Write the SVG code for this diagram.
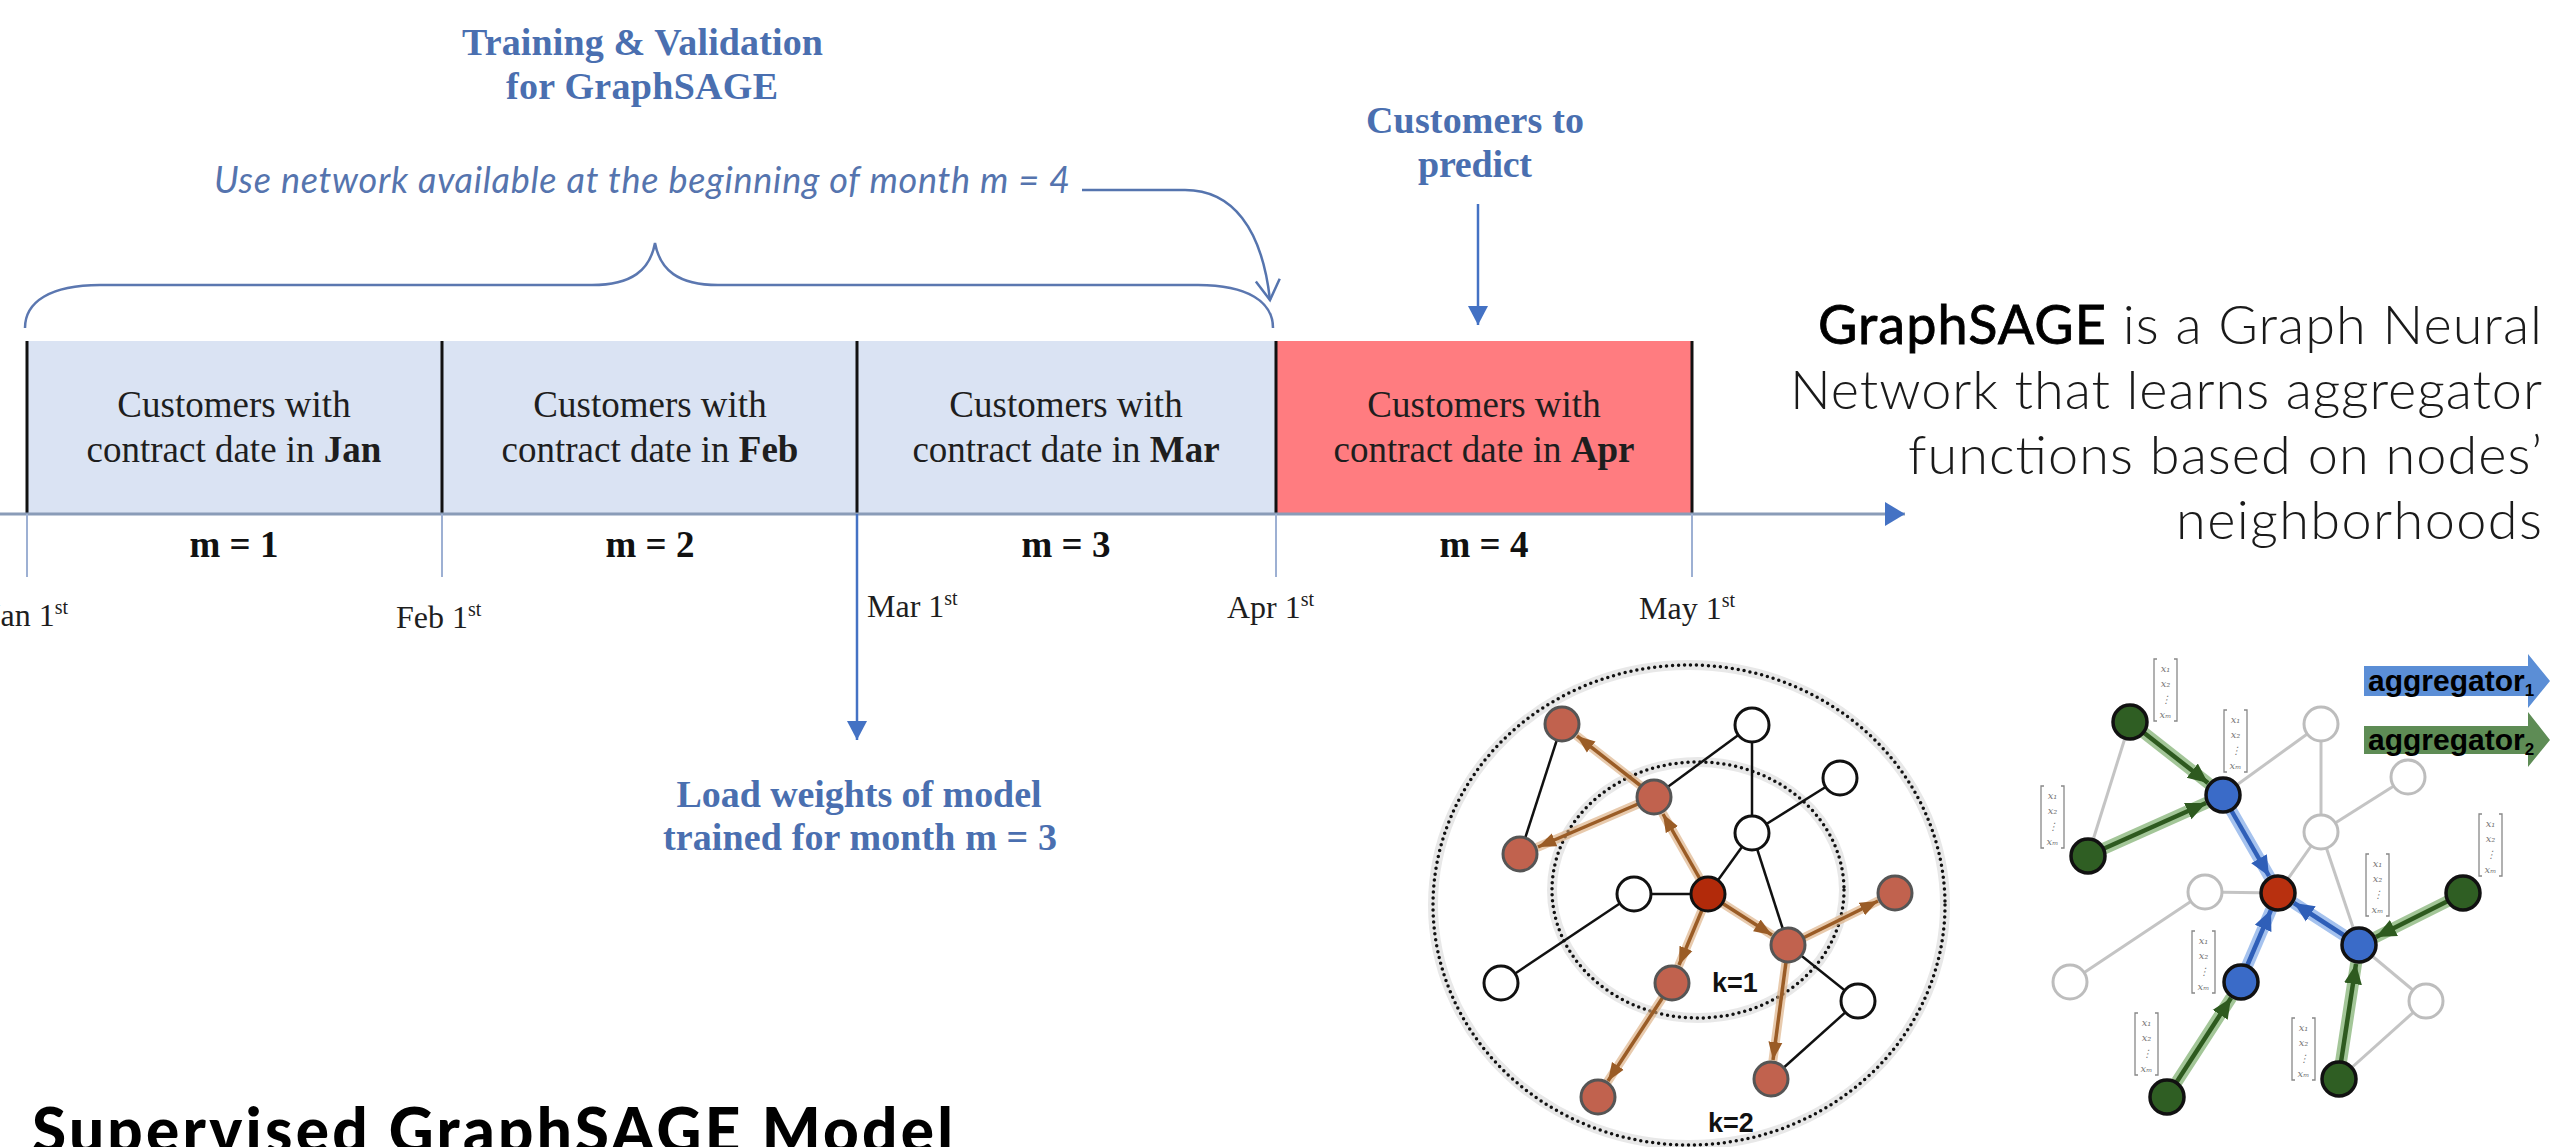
<svg xmlns="http://www.w3.org/2000/svg" width="2569" height="1147" viewBox="0 0 2569 1147">
<defs>
<style>
.bt{font-family:"Liberation Serif","Times New Roman",serif;font-weight:bold;font-size:38px;fill:#4A6FB0}
.it{font-family:Lato,"Open Sans",sans-serif;font-style:italic;font-size:36px;fill:#5574AE}
.bx{font-family:"Liberation Serif","Times New Roman",serif;font-size:37px;fill:#1e1e1e;text-anchor:middle}
.ml{font-family:"Liberation Serif","Times New Roman",serif;font-weight:bold;font-size:37px;fill:#111;text-anchor:middle}
.dt{font-family:"Liberation Serif","Times New Roman",serif;font-size:32px;fill:#1e1e1e}
.sup{font-size:20px}
.desc{font-family:Lato,"Open Sans",sans-serif;font-size:54px;fill:#1a1a1a;text-anchor:end;font-weight:300}
.gs{fill:#000;font-weight:400;stroke:#000;stroke-width:0.8}
.ttl{font-family:Lato,"Open Sans",sans-serif;font-weight:900;font-size:62px;fill:#000}
.kl{font-family:"Liberation Sans",Arial,sans-serif;font-weight:bold;font-size:27px;fill:#111}
.ag{font-family:"Liberation Sans",Arial,sans-serif;font-weight:bold;font-size:30px;fill:#000}
.vt{font-family:"DejaVu Serif",serif;font-style:italic;font-size:10px;fill:#777;text-anchor:middle}
.dot{fill:none;stroke:#111;stroke-width:3.5;stroke-dasharray:0 6;stroke-linecap:round}
.glow{fill:none;stroke:#d8d8d8;stroke-width:10;opacity:.6}
.wn{fill:#fff;stroke:#111;stroke-width:3}
.rn{fill:#C1624E;stroke:#555;stroke-width:3}
.wn2{fill:#fff;stroke:#BDBDBD;stroke-width:3}
.gn{fill:#2F5E23;stroke:#111;stroke-width:3.5}
.bn{fill:#3A6BC8;stroke:#111;stroke-width:3.5}
.edge{stroke:#111;stroke-width:2.5}
.edge2{stroke:#C4C4C4;stroke-width:3}
.brh{stroke:#D9A877;stroke-width:9;opacity:.6;stroke-linecap:round}
.brc{stroke:#9A5C26;stroke-width:3.5}
.grh{stroke:#8DB87F;stroke-width:12;opacity:.8;stroke-linecap:round}
.grc{stroke:#2E5A1F;stroke-width:4.5}
.blh{stroke:#8FB3EA;stroke-width:12;opacity:.8;stroke-linecap:round}
.blc{stroke:#2F5FB8;stroke-width:4.5}
.conn{fill:none;stroke:#4472C4;stroke-width:2.5}
</style>
<marker id="ah-brown" markerUnits="userSpaceOnUse" markerWidth="20" markerHeight="16" refX="18" refY="8" orient="auto"><path d="M0,1 L18,8 L0,15 z" fill="#9A5C26"/></marker>
<marker id="ah-green" markerUnits="userSpaceOnUse" markerWidth="22" markerHeight="20" refX="20" refY="10" orient="auto"><path d="M0,1 L20,10 L0,19 z" fill="#2E5A1F"/></marker>
<marker id="ah-blue" markerUnits="userSpaceOnUse" markerWidth="22" markerHeight="20" refX="20" refY="10" orient="auto"><path d="M0,1 L20,10 L0,19 z" fill="#2F5FB8"/></marker>
<marker id="ah-tl" markerUnits="userSpaceOnUse" markerWidth="22" markerHeight="22" refX="19" refY="10" orient="auto"><path d="M0,0 L19,10 L0,20 z" fill="#4472C4"/></marker>
<marker id="ah-axis" markerUnits="userSpaceOnUse" markerWidth="22" markerHeight="26" refX="20" refY="12" orient="auto"><path d="M0,0 L20,12 L0,24 z" fill="#4472C4"/></marker>
<marker id="ah-open" markerUnits="userSpaceOnUse" markerWidth="26" markerHeight="30" refX="22" refY="14" orient="auto"><path d="M2,2 L22,14 L2,26" fill="none" stroke="#5574AE" stroke-width="2.5"/></marker>
<symbol id="vec" overflow="visible">
<path d="M4,1 H1 V63 H4 M21,1 H24 V63 H21" fill="none" stroke="#888" stroke-width="1.3"/>
<text class="vt" x="12.5" y="14">x₁</text>
<text class="vt" x="12.5" y="29">x₂</text>
<text class="vt" x="12.5" y="45">⋮</text>
<text class="vt" x="12.5" y="60">xₘ</text>
</symbol>
</defs>
<rect width="2569" height="1147" fill="#fff"/>

<!-- Titles -->
<g id="title-training">
<text class="bt" x="462" y="55" textLength="361">Training &amp; Validation</text>
<text class="bt" x="506" y="99" textLength="272">for GraphSAGE</text>
</g>
<g id="label-network">
<text class="it" x="214" y="193" textLength="856">Use network available at the beginning of month  m = 4</text>
</g>
<g id="title-predict">
<text class="bt" x="1366" y="133" textLength="218">Customers to</text>
<text class="bt" x="1418" y="177" textLength="114">predict</text>
</g>

<!-- Month boxes -->
<g id="box-jan">
<rect x="27" y="341" width="415" height="173" fill="#DAE3F3"/>
<text class="bx" x="234" y="417">Customers with</text>
<text class="bx" x="234" y="462">contract  date in <tspan font-weight="bold">Jan</tspan></text>
<text class="ml" x="234" y="557">m = 1</text>
</g>
<g id="box-feb">
<rect x="442" y="341" width="415" height="173" fill="#DAE3F3"/>
<text class="bx" x="650" y="417">Customers with</text>
<text class="bx" x="650" y="462">contract  date in <tspan font-weight="bold">Feb</tspan></text>
<text class="ml" x="650" y="557">m = 2</text>
</g>
<g id="box-mar">
<rect x="857" y="341" width="419" height="173" fill="#DAE3F3"/>
<text class="bx" x="1066" y="417">Customers with</text>
<text class="bx" x="1066" y="462">contract  date in <tspan font-weight="bold">Mar</tspan></text>
<text class="ml" x="1066" y="557">m = 3</text>
</g>
<g id="box-apr">
<rect x="1276" y="341" width="416" height="173" fill="#FF7C80"/>
<text class="bx" x="1484" y="417" fill="#2a0a0a">Customers with</text>
<text class="bx" x="1484" y="462">contract  date in <tspan font-weight="bold">Apr</tspan></text>
<text class="ml" x="1484" y="557">m = 4</text>
</g>
<g id="dividers" stroke="#111" stroke-width="3">
<line x1="27" y1="341" x2="27" y2="514"/>
<line x1="442" y1="341" x2="442" y2="514"/>
<line x1="857" y1="341" x2="857" y2="514"/>
<line x1="1276" y1="341" x2="1276" y2="514"/>
<line x1="1692" y1="341" x2="1692" y2="514"/>
</g>

<!-- Dates -->
<g id="dates">
<text class="dt" x="-12" y="626">Jan 1<tspan class="sup" dy="-12">st</tspan></text>
<text class="dt" x="396" y="628">Feb 1<tspan class="sup" dy="-12">st</tspan></text>
<text class="dt" x="867" y="617">Mar 1<tspan class="sup" dy="-12">st</tspan></text>
<text class="dt" x="1227" y="618">Apr 1<tspan class="sup" dy="-12">st</tspan></text>
<text class="dt" x="1639" y="619">May 1<tspan class="sup" dy="-12">st</tspan></text>
</g>

<g id="label-load">
<text class="bt" x="859" y="807" text-anchor="middle" textLength="365">Load weights of model</text>
<text class="bt" x="860" y="850" text-anchor="middle" textLength="394">trained for month m = 3</text>
</g>

<!-- Timeline connectors -->
<g id="connectors">
<line x1="0" y1="514" x2="1905" y2="514" stroke="#8A9CB8" stroke-width="3" marker-end="url(#ah-axis)"/>
<g stroke="#9DB0D3" stroke-width="2">
<line x1="27" y1="514" x2="27" y2="577"/>
<line x1="442" y1="514" x2="442" y2="577"/>
<line x1="1276" y1="514" x2="1276" y2="577"/>
<line x1="1692" y1="514" x2="1692" y2="577"/>
</g>
<line class="conn" x1="857" y1="514" x2="857" y2="740" marker-end="url(#ah-tl)"/>
<line class="conn" x1="1478" y1="204" x2="1478" y2="325" marker-end="url(#ah-tl)"/>
<path d="M25,328 C25,302 50,285 100,285 L592,285 C632,285 650,270 655,243 C660,270 678,285 718,285 L1198,285 C1248,285 1273,302 1273,328" fill="none" stroke="#5B77B0" stroke-width="2.5"/>
<path d="M1082,190 L1185,190 C1232,190 1262,228 1270,300" fill="none" stroke="#5574AE" stroke-width="2.5" marker-end="url(#ah-open)"/>
</g>

<!-- Description -->
<g id="description">
<text class="desc" x="2542" y="344" textLength="724"><tspan class="gs">GraphSAGE</tspan> is a Graph Neural</text>
<text class="desc" x="2542" y="409" textLength="752">Network that learns aggregator</text>
<text class="desc" x="2542" y="474" textLength="634">functions based on nodes’</text>
<text class="desc" x="2542" y="539" textLength="366">neighborhoods</text>
</g>

<g id="title-supervised">
<text class="ttl" x="32" y="1153" textLength="921">Supervised GraphSAGE Model</text>
</g>

<!-- Left graph: sampling neighborhood -->
<g id="graph-sampling">
<ellipse class="glow" cx="1689" cy="905" rx="256" ry="240"/>
<ellipse class="glow" cx="1698" cy="890" rx="146" ry="128"/>
<ellipse class="dot" cx="1689" cy="905" rx="256" ry="240"/>
<ellipse class="dot" cx="1698" cy="890" rx="146" ry="128"/>
<g class="edge">
<line x1="1562" y1="724" x2="1520" y2="854"/>
<line x1="1654" y1="797" x2="1752" y2="725"/>
<line x1="1752" y1="725" x2="1752" y2="833"/>
<line x1="1752" y1="833" x2="1840" y2="778"/>
<line x1="1752" y1="833" x2="1708" y2="894"/>
<line x1="1752" y1="833" x2="1788" y2="945"/>
<line x1="1634" y1="894" x2="1708" y2="894"/>
<line x1="1634" y1="894" x2="1501" y2="983"/>
<line x1="1788" y1="945" x2="1858" y2="1001"/>
<line x1="1858" y1="1001" x2="1771" y2="1079"/>
</g>
<g class="brh">
<line x1="1641" y1="786" x2="1577" y2="736"/>
<line x1="1638" y1="804" x2="1538" y2="847"/>
<line x1="1700" y1="879" x2="1663" y2="814"/>
<line x1="1722" y1="903" x2="1772" y2="935"/>
<line x1="1702" y1="910" x2="1679" y2="965"/>
<line x1="1803" y1="938" x2="1878" y2="901"/>
<line x1="1786" y1="962" x2="1773" y2="1060"/>
<line x1="1663" y1="997" x2="1608" y2="1081"/>
</g>
<g class="brc">
<line x1="1641" y1="786" x2="1577" y2="736" marker-end="url(#ah-brown)"/>
<line x1="1638" y1="804" x2="1538" y2="847" marker-end="url(#ah-brown)"/>
<line x1="1700" y1="879" x2="1663" y2="814" marker-end="url(#ah-brown)"/>
<line x1="1722" y1="903" x2="1772" y2="935" marker-end="url(#ah-brown)"/>
<line x1="1702" y1="910" x2="1679" y2="965" marker-end="url(#ah-brown)"/>
<line x1="1803" y1="938" x2="1878" y2="901" marker-end="url(#ah-brown)"/>
<line x1="1786" y1="962" x2="1773" y2="1060" marker-end="url(#ah-brown)"/>
<line x1="1663" y1="997" x2="1608" y2="1081" marker-end="url(#ah-brown)"/>
</g>
<circle class="rn" cx="1562" cy="724" r="17"/>
<circle class="wn" cx="1752" cy="725" r="17"/>
<circle class="rn" cx="1654" cy="797" r="17"/>
<circle class="wn" cx="1840" cy="778" r="17"/>
<circle class="wn" cx="1752" cy="833" r="17"/>
<circle class="rn" cx="1520" cy="854" r="17"/>
<circle class="wn" cx="1634" cy="894" r="17"/>
<circle cx="1708" cy="894" r="17" fill="#B22A0A" stroke="#111" stroke-width="3"/>
<circle class="rn" cx="1895" cy="893" r="17"/>
<circle class="rn" cx="1788" cy="945" r="17"/>
<circle class="wn" cx="1501" cy="983" r="17"/>
<circle class="rn" cx="1672" cy="983" r="17"/>
<circle class="wn" cx="1858" cy="1001" r="17"/>
<circle class="rn" cx="1598" cy="1097" r="17"/>
<circle class="rn" cx="1771" cy="1079" r="17"/>
<text class="kl" x="1712" y="992">k=1</text>
<text class="kl" x="1708" y="1132">k=2</text>
</g>

<!-- Right graph: aggregation -->
<g id="graph-aggregation">
<g class="edge2">
<line x1="2130" y1="722" x2="2088" y2="856"/>
<line x1="2223" y1="795" x2="2321" y2="724"/>
<line x1="2321" y1="724" x2="2321" y2="832"/>
<line x1="2321" y1="832" x2="2408" y2="777"/>
<line x1="2321" y1="832" x2="2278" y2="893"/>
<line x1="2321" y1="832" x2="2359" y2="945"/>
<line x1="2205" y1="892" x2="2278" y2="893"/>
<line x1="2205" y1="892" x2="2070" y2="982"/>
<line x1="2359" y1="945" x2="2426" y2="1001"/>
<line x1="2426" y1="1001" x2="2339" y2="1079"/>
</g>
<g class="grh">
<line x1="2143" y1="732" x2="2208" y2="783"/>
<line x1="2103" y1="849" x2="2206" y2="803"/>
<line x1="2448" y1="901" x2="2376" y2="937"/>
<line x1="2341" y1="1062" x2="2356" y2="964"/>
<line x1="2176" y1="1083" x2="2231" y2="998"/>
</g>
<g class="blh">
<line x1="2231" y1="810" x2="2269" y2="876"/>
<line x1="2247" y1="966" x2="2271" y2="910"/>
<line x1="2345" y1="936" x2="2294" y2="903"/>
</g>
<g class="grc">
<line x1="2143" y1="732" x2="2208" y2="783" marker-end="url(#ah-green)"/>
<line x1="2103" y1="849" x2="2206" y2="803" marker-end="url(#ah-green)"/>
<line x1="2448" y1="901" x2="2376" y2="937" marker-end="url(#ah-green)"/>
<line x1="2341" y1="1062" x2="2356" y2="964" marker-end="url(#ah-green)"/>
<line x1="2176" y1="1083" x2="2231" y2="998" marker-end="url(#ah-green)"/>
</g>
<g class="blc">
<line x1="2231" y1="810" x2="2269" y2="876" marker-end="url(#ah-blue)"/>
<line x1="2247" y1="966" x2="2271" y2="910" marker-end="url(#ah-blue)"/>
<line x1="2345" y1="936" x2="2294" y2="903" marker-end="url(#ah-blue)"/>
</g>
<circle class="gn" cx="2130" cy="722" r="17"/>
<circle class="gn" cx="2088" cy="856" r="17"/>
<circle class="bn" cx="2223" cy="795" r="17"/>
<circle class="wn2" cx="2321" cy="724" r="17"/>
<circle class="wn2" cx="2408" cy="777" r="17"/>
<circle class="wn2" cx="2321" cy="832" r="17"/>
<circle class="wn2" cx="2205" cy="892" r="17"/>
<circle cx="2278" cy="893" r="17" fill="#B8300F" stroke="#111" stroke-width="3.5"/>
<circle class="gn" cx="2463" cy="893" r="17"/>
<circle class="bn" cx="2359" cy="945" r="17"/>
<circle class="wn2" cx="2070" cy="982" r="17"/>
<circle class="bn" cx="2241" cy="982" r="17"/>
<circle class="wn2" cx="2426" cy="1001" r="17"/>
<circle class="gn" cx="2167" cy="1097" r="17"/>
<circle class="gn" cx="2339" cy="1079" r="17"/>
<use href="#vec" x="2153" y="658"/>
<use href="#vec" x="2223" y="709"/>
<use href="#vec" x="2040" y="785"/>
<use href="#vec" x="2478" y="813"/>
<use href="#vec" x="2365" y="853"/>
<use href="#vec" x="2191" y="930"/>
<use href="#vec" x="2134" y="1012"/>
<use href="#vec" x="2291" y="1017"/>
</g>

<g id="legend-aggregator1">
<polygon points="2364,666 2528,666 2528,654 2550,681 2528,708 2528,696 2364,696" fill="#5B8ED6"/>
<text class="ag" x="2368" y="691">aggregator<tspan font-size="17" dy="5">1</tspan></text>
</g>
<g id="legend-aggregator2">
<polygon points="2364,726 2528,726 2528,712 2550,740 2528,767 2528,754 2364,754" fill="#5E8C55"/>
<text class="ag" x="2368" y="750">aggregator<tspan font-size="17" dy="5">2</tspan></text>
</g>
</svg>
